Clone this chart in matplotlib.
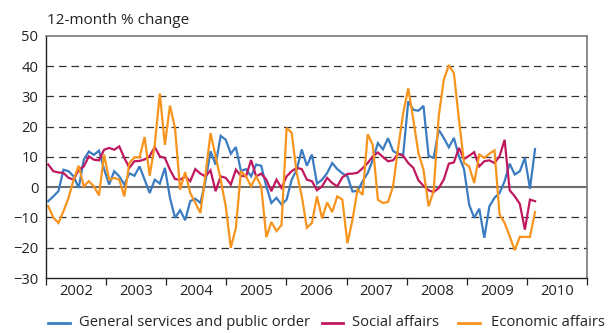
import numpy as np
import matplotlib.pyplot as plt
from matplotlib.lines import Line2D

plt.rcParams['font.family'] = ['Open Sans', 'DejaVu Sans']

# Monthly 12-month % change, Jan 2002 - Jan 2010
general = [-4.6, -3.0, -1.3, 5.8, 5.3, 3.6, -0.2, 9.1, 11.8, 10.7, 12.1, 6.0,
           0.9, 5.3, 3.6, 0.9, 4.6, 3.8, 6.9, 2.5, -1.9, 2.5, 1.2, 6.4,
           -3.5, -10.1, -7.6, -10.9, -4.6, -3.8, -5.2, 2.0, 11.9, 7.5, 17.0, 15.7,
           11.1, 13.3, 5.3, 6.0, 3.6, 7.5, 7.1, 0.3, -5.2, -3.5, -5.7, -4.1,
           2.5, 5.8, 12.5, 7.1, 10.8, 1.2, 2.5, 4.7, 8.0, 6.0, 4.6, 3.6,
           -1.4, -1.2, 2.0, 4.7, 9.0, 14.6, 12.5, 16.2, 12.0, 11.0, 10.8, 28.4,
           25.6, 25.3, 26.9, 10.4, 9.7, 19.0, 16.3, 13.2, 16.3, 10.2, 6.0, -5.7,
           -10.1, -7.1, -16.7, -6.3, -3.5, -1.9, 2.0, 7.8, 4.2, 5.3, 9.7, -0.5,
           12.6]
social = [7.5, 5.3, 4.9, 4.7, 3.1, 2.5, 5.8, 6.9, 10.2, 9.1, 8.9, 12.4,
          13.0, 12.4, 13.5, 9.7, 6.4, 8.6, 8.7, 9.2, 10.3, 13.3, 10.2, 9.7,
          5.8, 2.7, 2.5, 3.6, 2.0, 6.0, 4.5, 3.6, 5.6, -1.3, 3.6, 3.1,
          0.9, 5.8, 3.8, 3.6, 9.0, 3.6, 4.5, 2.5, -1.3, 2.5, -0.2, 3.6,
          5.3, 6.4, 6.0, 2.5, 2.0, -1.0, 0.3, 3.1, 1.4, 0.3, 3.3, 4.4,
          4.5, 4.8, 6.3, 8.0, 10.2, 11.5, 10.0, 8.6, 8.9, 11.1, 10.4, 8.0,
          6.4, 2.3, 0.5, -1.0, -1.6, -0.3, 2.5, 7.8, 8.2, 13.0, 9.3, 10.4,
          11.6, 6.9, 8.6, 8.9, 8.0, 10.2, 15.7, -1.0, -3.0, -5.5, -14.0, -4.1,
          -4.6]
economic = [-6.3, -10.0, -11.8, -7.9, -3.5, 2.5, 7.1, 0.3, 2.0, 0.3, -2.7, 10.8,
            2.5, 3.1, 2.5, -3.0, 8.0, 9.9, 9.9, 16.6, 3.8, 14.0, 31.0, 14.0,
            27.0, 19.5, -0.8, 5.0, -1.9, -5.2, -8.5, 4.0, 17.9, 10.2, 2.5, -6.3,
            -20.0, -13.4, 5.3, 3.6, 0.3, 3.6, 0.3, -16.5, -11.5, -14.5, -12.5, 19.6,
            18.0, 4.7, -3.0, -13.4, -11.8, -3.0, -10.3, -5.0, -8.2, -3.0, -4.1, -18.5,
            -10.7, -0.8, -2.5, 17.5, 14.0, -4.1, -5.2, -4.9, 0.3, 13.0, 24.5, 32.7,
            22.3, 11.3, 5.8, -6.3, -1.3, 23.4, 35.5, 40.4, 37.7, 22.3, 8.0, 6.9,
            1.4, 10.8, 9.7, 11.1, 12.2, -9.0, -11.8, -16.2, -20.8, -16.4, -16.4, -16.4,
            -8.2]
years = ['2002', '2003', '2004', '2005', '2006', '2007', '2008', '2009', '2010']
labels = ['General services and public order', 'Social affairs', 'Economic affairs']
colors = ['#3b7cc1', '#c0175f', '#f7941e']

W, H = 611, 333
fs = 10.6
fig = plt.figure(figsize=(W / 100, H / 100), dpi=100)
ax = fig.add_axes([46 / W, 1 - 278 / H, 541 / W, 242 / H])

months = np.arange(len(general))
for series, c in zip([general, social, economic], colors):
    ax.plot(months, series, color=c, lw=1.6, solid_joinstyle='miter')

x_lo, x_hi = -0.45, 106.25
ax.set_xlim(x_lo, x_hi)
ax.set_ylim(-30, 50)

# year boundaries as major ticks, year names centred between them
edges = np.linspace(x_lo, x_hi, len(years) + 1)
ax.set_xticks(edges)
ax.set_xticklabels([])
ax.set_xticks((edges[:-1] + edges[1:]) / 2, minor=True)
ax.set_xticklabels(years, minor=True)
ax.tick_params(axis='x', which='major', direction='out', length=5, width=0.9, color='#222222')
ax.tick_params(axis='x', which='minor', length=0, pad=4.5, labelsize=fs, colors='#222222')

ax.set_yticks(np.arange(-30, 51, 10))
ax.tick_params(axis='y', length=0, pad=5.5, labelsize=fs, colors='#222222')

for v in [-20, -10, 10, 20, 30, 40]:
    ax.axhline(v, color='#333333', lw=0.9, ls=(0, (6, 4)), zorder=0)
ax.axhline(0, color='#6e6e6e', lw=1.5, zorder=0.5)

for side in ['left', 'bottom']:
    ax.spines[side].set_color('#222222')
    ax.spines[side].set_linewidth(1.0)
for side in ['top', 'right']:
    ax.spines[side].set_color('#777777')
    ax.spines[side].set_linewidth(1.2)

fig.text(47 / W, 1 - 20 / H, '12-month % change', fontsize=11, color='#222222',
         ha='left', va='center')

# legend drawn in pixel positions along the bottom
leg_y = 1 - 323 / H
for (x0, x1, tx), lab, c in zip([(48, 70, 79), (322, 343, 352), (458, 480, 491)], labels, colors):
    fig.add_artist(Line2D([x0 / W, x1 / W], [leg_y, leg_y], color=c, lw=2.0,
                          transform=fig.transFigure))
    fig.text(tx / W, leg_y, lab, fontsize=fs, color='#222222', ha='left', va='center')

fig.savefig('out.png', dpi=100)
